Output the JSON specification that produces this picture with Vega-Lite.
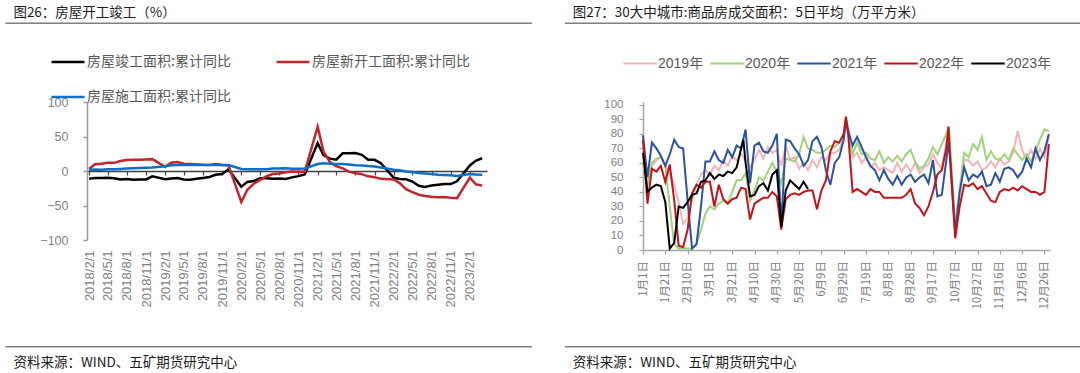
{
"$schema":"https://vega.github.io/schema/vega-lite/v6.json",
"autosize":{"type":"none"},
"padding":{"left":87,"top":102,"right":993,"bottom":271},
"background":"white",
"spacing":31,
"resolve":{"scale":{"color":"independent"},"legend":{"color":"independent"}},
"config":{"view":{"stroke":null},"axis":{"grid":false,"title":null,"domainCap":"butt","labelOverlap":false,"labelBound":false,"labelFlush":false}},
"hconcat":[
{"width":400,"height":138,
"layer":[
{"data":{"values":[
{"d":"2018-02-01","房屋竣工面积:累计同比":-11.3,"房屋新开工面积:累计同比":2.9,"房屋施工面积:累计同比":1.6},
{"d":"2018-03-01","房屋竣工面积:累计同比":-10.0,"房屋新开工面积:累计同比":9.7,"房屋施工面积:累计同比":2.0},
{"d":"2018-04-01","房屋竣工面积:累计同比":-10.3,"房屋新开工面积:累计同比":10.4,"房屋施工面积:累计同比":1.9},
{"d":"2018-05-01","房屋竣工面积:累计同比":-9.9,"房屋新开工面积:累计同比":11.8,"房屋施工面积:累计同比":2.4},
{"d":"2018-06-01","房屋竣工面积:累计同比":-10.6,"房屋新开工面积:累计同比":11.8,"房屋施工面积:累计同比":2.6},
{"d":"2018-07-01","房屋竣工面积:累计同比":-12.3,"房屋新开工面积:累计同比":14.4,"房屋施工面积:累计同比":3.0},
{"d":"2018-08-01","房屋竣工面积:累计同比":-11.6,"房屋新开工面积:累计同比":15.9,"房屋施工面积:累计同比":3.6},
{"d":"2018-09-01","房屋竣工面积:累计同比":-12.5,"房屋新开工面积:累计同比":16.4,"房屋施工面积:累计同比":4.1},
{"d":"2018-10-01","房屋竣工面积:累计同比":-12.4,"房屋新开工面积:累计同比":16.3,"房屋施工面积:累计同比":4.3},
{"d":"2018-11-01","房屋竣工面积:累计同比":-12.3,"房屋新开工面积:累计同比":16.8,"房屋施工面积:累计同比":4.7},
{"d":"2018-12-01","房屋竣工面积:累计同比":-7.8,"房屋新开工面积:累计同比":17.2,"房屋施工面积:累计同比":5.2},
{"d":"2019-02-01","房屋竣工面积:累计同比":-11.9,"房屋新开工面积:累计同比":6.0,"房屋施工面积:累计同比":6.8},
{"d":"2019-03-01","房屋竣工面积:累计同比":-10.8,"房屋新开工面积:累计同比":11.9,"房屋施工面积:累计同比":8.2},
{"d":"2019-04-01","房屋竣工面积:累计同比":-10.3,"房屋新开工面积:累计同比":13.1,"房屋施工面积:累计同比":8.8},
{"d":"2019-05-01","房屋竣工面积:累计同比":-12.4,"房屋新开工面积:累计同比":10.5,"房屋施工面积:累计同比":8.8},
{"d":"2019-06-01","房屋竣工面积:累计同比":-12.7,"房屋新开工面积:累计同比":10.1,"房屋施工面积:累计同比":8.8},
{"d":"2019-07-01","房屋竣工面积:累计同比":-11.3,"房屋新开工面积:累计同比":9.5,"房屋施工面积:累计同比":9.0},
{"d":"2019-08-01","房屋竣工面积:累计同比":-10.0,"房屋新开工面积:累计同比":8.9,"房屋施工面积:累计同比":8.8},
{"d":"2019-09-01","房屋竣工面积:累计同比":-8.6,"房屋新开工面积:累计同比":8.6,"房屋施工面积:累计同比":8.7},
{"d":"2019-10-01","房屋竣工面积:累计同比":-5.5,"房屋新开工面积:累计同比":10.0,"房屋施工面积:累计同比":9.0},
{"d":"2019-11-01","房屋竣工面积:累计同比":-4.5,"房屋新开工面积:累计同比":8.6,"房屋施工面积:累计同比":8.7},
{"d":"2019-12-01","房屋竣工面积:累计同比":2.6,"房屋新开工面积:累计同比":8.5,"房屋施工面积:累计同比":8.7},
{"d":"2020-02-01","房屋竣工面积:累计同比":-22.9,"房屋新开工面积:累计同比":-44.9,"房屋施工面积:累计同比":2.9},
{"d":"2020-03-01","房屋竣工面积:累计同比":-15.8,"房屋新开工面积:累计同比":-27.2,"房屋施工面积:累计同比":2.6},
{"d":"2020-04-01","房屋竣工面积:累计同比":-14.5,"房屋新开工面积:累计同比":-18.4,"房屋施工面积:累计同比":2.5},
{"d":"2020-05-01","房屋竣工面积:累计同比":-10.6,"房屋新开工面积:累计同比":-12.8,"房屋施工面积:累计同比":2.6},
{"d":"2020-06-01","房屋竣工面积:累计同比":-10.5,"房屋新开工面积:累计同比":-7.6,"房屋施工面积:累计同比":2.6},
{"d":"2020-07-01","房屋竣工面积:累计同比":-11.2,"房屋新开工面积:累计同比":-4.5,"房屋施工面积:累计同比":3.6},
{"d":"2020-08-01","房屋竣工面积:累计同比":-10.8,"房屋新开工面积:累计同比":-3.6,"房屋施工面积:累计同比":3.6},
{"d":"2020-09-01","房屋竣工面积:累计同比":-11.6,"房屋新开工面积:累计同比":-1.9,"房屋施工面积:累计同比":3.9},
{"d":"2020-10-01","房屋竣工面积:累计同比":-9.2,"房屋新开工面积:累计同比":-0.6,"房屋施工面积:累计同比":3.4},
{"d":"2020-11-01","房屋竣工面积:累计同比":-7.4,"房屋新开工面积:累计同比":-1.0,"房屋施工面积:累计同比":3.2},
{"d":"2020-12-01","房屋竣工面积:累计同比":-4.9,"房屋新开工面积:累计同比":-1.2,"房屋施工面积:累计同比":3.7},
{"d":"2021-02-01","房屋竣工面积:累计同比":40.4,"房屋新开工面积:累计同比":64.3,"房屋施工面积:累计同比":10.1},
{"d":"2021-03-01","房屋竣工面积:累计同比":22.9,"房屋新开工面积:累计同比":28.2,"房屋施工面积:累计同比":11.2},
{"d":"2021-04-01","房屋竣工面积:累计同比":17.9,"房屋新开工面积:累计同比":12.8,"房屋施工面积:累计同比":10.5},
{"d":"2021-05-01","房屋竣工面积:累计同比":16.4,"房屋新开工面积:累计同比":6.9,"房屋施工面积:累计同比":10.1},
{"d":"2021-06-01","房屋竣工面积:累计同比":25.7,"房屋新开工面积:累计同比":3.8,"房屋施工面积:累计同比":10.2},
{"d":"2021-07-01","房屋竣工面积:累计同比":25.7,"房屋新开工面积:累计同比":-0.9,"房屋施工面积:累计同比":9.5},
{"d":"2021-08-01","房屋竣工面积:累计同比":26.0,"房屋新开工面积:累计同比":-3.2,"房屋施工面积:累计同比":8.4},
{"d":"2021-09-01","房屋竣工面积:累计同比":23.4,"房屋新开工面积:累计同比":-4.5,"房屋施工面积:累计同比":7.9},
{"d":"2021-10-01","房屋竣工面积:累计同比":16.3,"房屋新开工面积:累计同比":-7.7,"房屋施工面积:累计同比":7.1},
{"d":"2021-11-01","房屋竣工面积:累计同比":16.2,"房屋新开工面积:累计同比":-9.1,"房屋施工面积:累计同比":6.6},
{"d":"2021-12-01","房屋竣工面积:累计同比":11.2,"房屋新开工面积:累计同比":-11.4,"房屋施工面积:累计同比":5.2},
{"d":"2022-02-01","房屋竣工面积:累计同比":-9.8,"房屋新开工面积:累计同比":-12.2,"房屋施工面积:累计同比":1.7},
{"d":"2022-03-01","房屋竣工面积:累计同比":-11.5,"房屋新开工面积:累计同比":-17.5,"房屋施工面积:累计同比":1.0},
{"d":"2022-04-01","房屋竣工面积:累计同比":-11.9,"房屋新开工面积:累计同比":-26.3,"房屋施工面积:累计同比":-0.7},
{"d":"2022-05-01","房屋竣工面积:累计同比":-15.3,"房屋新开工面积:累计同比":-30.6,"房屋施工面积:累计同比":-1.3},
{"d":"2022-06-01","房屋竣工面积:累计同比":-21.5,"房屋新开工面积:累计同比":-34.4,"房屋施工面积:累计同比":-2.8},
{"d":"2022-07-01","房屋竣工面积:累计同比":-23.3,"房屋新开工面积:累计同比":-36.1,"房屋施工面积:累计同比":-3.7},
{"d":"2022-08-01","房屋竣工面积:累计同比":-21.1,"房屋新开工面积:累计同比":-37.2,"房屋施工面积:累计同比":-4.5},
{"d":"2022-09-01","房屋竣工面积:累计同比":-19.9,"房屋新开工面积:累计同比":-38.0,"房屋施工面积:累计同比":-5.3},
{"d":"2022-10-01","房屋竣工面积:累计同比":-18.7,"房屋新开工面积:累计同比":-37.8,"房屋施工面积:累计同比":-5.7},
{"d":"2022-11-01","房屋竣工面积:累计同比":-19.0,"房屋新开工面积:累计同比":-38.9,"房屋施工面积:累计同比":-6.0},
{"d":"2022-12-01","房屋竣工面积:累计同比":-15.0,"房屋新开工面积:累计同比":-39.4,"房屋施工面积:累计同比":-7.2},
{"d":"2023-02-01","房屋竣工面积:累计同比":8.0,"房屋新开工面积:累计同比":-9.4,"房屋施工面积:累计同比":-4.4},
{"d":"2023-03-01","房屋竣工面积:累计同比":14.7,"房屋新开工面积:累计同比":-19.2,"房屋施工面积:累计同比":-5.2},
{"d":"2023-04-01","房屋竣工面积:累计同比":18.8,"房屋新开工面积:累计同比":-21.2,"房屋施工面积:累计同比":-5.6}
]},
"transform":[{"fold":["房屋竣工面积:累计同比","房屋新开工面积:累计同比","房屋施工面积:累计同比"],"as":["s","v"]}],
"mark":{"type":"line","strokeWidth":2.5},
"encoding":{
"x":{"field":"d","type":"temporal","scale":{"type":"utc","nice":false,"domain":[{"year":2018,"month":1,"date":22,"utc":true},{"year":2023,"month":4,"date":24,"utc":true}]},
"axis":{"orient":"bottom","offset":-69,"tickCount":100,"values":[{"year":2018,"month":2,"date":1,"utc":true},{"year":2018,"month":5,"date":1,"utc":true},{"year":2018,"month":8,"date":1,"utc":true},{"year":2018,"month":11,"date":1,"utc":true},{"year":2019,"month":2,"date":1,"utc":true},{"year":2019,"month":5,"date":1,"utc":true},{"year":2019,"month":8,"date":1,"utc":true},{"year":2019,"month":11,"date":1,"utc":true},{"year":2020,"month":2,"date":1,"utc":true},{"year":2020,"month":5,"date":1,"utc":true},{"year":2020,"month":8,"date":1,"utc":true},{"year":2020,"month":11,"date":1,"utc":true},{"year":2021,"month":2,"date":1,"utc":true},{"year":2021,"month":5,"date":1,"utc":true},{"year":2021,"month":8,"date":1,"utc":true},{"year":2021,"month":11,"date":1,"utc":true},{"year":2022,"month":2,"date":1,"utc":true},{"year":2022,"month":5,"date":1,"utc":true},{"year":2022,"month":8,"date":1,"utc":true},{"year":2022,"month":11,"date":1,"utc":true},{"year":2023,"month":2,"date":1,"utc":true}],
"labelExpr":"utcFormat(datum.value, '%Y/%-m/%-d')","labelAngle":270,"labelPadding":75,"labelOverlap":false,"domain":true,"domainColor":"#404040","domainWidth":1.5,"ticks":true,"tickSize":4,"tickColor":"#404040","tickWidth":1.2,"labelFont":"Liberation Sans","labelFontSize":13,"labelColor":"#7f7f7f","title":null}},
"y":{"field":"v","type":"quantitative","scale":{"domain":[-100,100],"nice":false,"zero":false},
"axis":{"values":[-100,-50,0,50,100],"tickCount":100,"labelOverlap":false,"domainColor":"#999999","domainWidth":1.5,"tickColor":"#999999","tickWidth":1.5,"tickSize":4,"labelPadding":15,"labelFont":"Liberation Sans","labelFontSize":12.5,"labelColor":"#7f7f7f","title":null}},
"color":{"field":"s","type":"nominal","scale":{"domain":["房屋竣工面积:累计同比","房屋施工面积:累计同比","房屋新开工面积:累计同比"],"range":["#000000","#0a6fc6","#c0272d"]},
"legend":{"orient":"none","legendX":-37,"legendY":-58,"columns":2,"columnPadding":40,"rowPadding":10,"padding":0,"symbolType":"stroke","symbolSize":1089,"symbolStrokeWidth":2.5,"labelFont":"Noto Sans CJK SC","labelFontSize":14,"labelColor":"#595959","labelOffset":1,"labelLimit":300,"title":null}}
}},
{"data":{"values":[{}]},
"mark":{"type":"rule","stroke":"#7f7f7f","strokeWidth":1.5},
"encoding":{
"x":{"datum":{"year":2016,"month":12,"date":27,"utc":true},"type":"temporal"},
"x2":{"datum":{"year":2023,"month":11,"date":26,"utc":true}},
"y":{"datum":214.1,"type":"quantitative"}
}},
{"data":{"values":[{}]},
"mark":{"type":"rule","stroke":"#7f7f7f","strokeWidth":1.5},
"encoding":{
"x":{"datum":{"year":2016,"month":12,"date":27,"utc":true},"type":"temporal"},
"x2":{"datum":{"year":2023,"month":11,"date":26,"utc":true}},
"y":{"datum":-254.6,"type":"quantitative"}
}},
{"data":{"values":[{}]},
"mark":{"type":"text","align":"left","baseline":"middle","font":"Noto Sans CJK SC","fontSize":13.5,"color":"#1a1a1a"},
"encoding":{
"x":{"datum":{"year":2017,"month":2,"date":3,"utc":true},"type":"temporal"},
"y":{"datum":228.6,"type":"quantitative"},
"text":{"value":"图26：房屋开工竣工（%）"}
}},
{"data":{"values":[{}]},
"mark":{"type":"text","align":"left","baseline":"middle","font":"Noto Sans CJK SC","fontSize":13.5,"color":"#1a1a1a"},
"encoding":{
"x":{"datum":{"year":2017,"month":2,"date":3,"utc":true},"type":"temporal"},
"y":{"datum":-278.7,"type":"quantitative"},
"text":{"value":"资料来源：WIND、五矿期货研究中心"}
}}
]
},
{"width":407,"height":148,
"layer":[
{"data":{"values":[
{"d":"2012-01-01","2019年":52,"2020年":60,"2021年":79,"2022年":76,"2023年":67},
{"d":"2012-01-05","2019年":46,"2020年":45,"2021年":50,"2022年":32,"2023年":40},
{"d":"2012-01-09","2019年":58,"2020年":60,"2021年":74,"2022年":56,"2023年":43},
{"d":"2012-01-13","2019年":62,"2020年":63,"2021年":70,"2022年":54,"2023年":45},
{"d":"2012-01-17","2019年":64,"2020年":64,"2021年":65,"2022年":58,"2023年":44},
{"d":"2012-01-21","2019年":58,"2020年":58,"2021年":58,"2022年":47,"2023年":33},
{"d":"2012-01-25","2019年":52,"2020年":30,"2021年":66,"2022年":59,"2023年":1},
{"d":"2012-01-29","2019年":45,"2020年":4,"2021年":76,"2022年":34,"2023年":5},
{"d":"2012-02-02","2019年":33,"2020年":1,"2021年":71,"2022年":3,"2023年":30},
{"d":"2012-02-06","2019年":18,"2020年":1,"2021年":70,"2022年":2,"2023年":29},
{"d":"2012-02-10","2019年":22,"2020年":1,"2021年":34,"2022年":14,"2023年":33},
{"d":"2012-02-14","2019年":35,"2020年":1,"2021年":1,"2022年":39,"2023年":38},
{"d":"2012-02-18","2019年":45,"2020年":4,"2021年":4,"2022年":45,"2023年":39},
{"d":"2012-02-22","2019年":52,"2020年":14,"2021年":30,"2022年":43,"2023年":47},
{"d":"2012-02-26","2019年":55,"2020年":25,"2021年":61,"2022年":47,"2023年":48},
{"d":"2012-03-01","2019年":52,"2020年":30,"2021年":61,"2022年":47,"2023年":53},
{"d":"2012-03-05","2019年":58,"2020年":28,"2021年":68,"2022年":30,"2023年":49},
{"d":"2012-03-09","2019年":55,"2020年":32,"2021年":62,"2022年":45,"2023年":52},
{"d":"2012-03-13","2019年":62,"2020年":34,"2021年":60,"2022年":35,"2023年":51},
{"d":"2012-03-17","2019年":58,"2020年":32,"2021年":69,"2022年":32,"2023年":54},
{"d":"2012-03-21","2019年":65,"2020年":40,"2021年":64,"2022年":35,"2023年":53},
{"d":"2012-03-25","2019年":62,"2020年":48,"2021年":72,"2022年":36,"2023年":57},
{"d":"2012-03-29","2019年":66,"2020年":48,"2021年":70,"2022年":43,"2023年":70},
{"d":"2012-03-31","2023年":76},
{"d":"2012-04-02","2019年":62,"2020年":53,"2021年":83,"2022年":42,"2023年":60},
{"d":"2012-04-06","2019年":57,"2020年":34,"2021年":46,"2022年":21,"2023年":37},
{"d":"2012-04-10","2019年":62,"2020年":41,"2021年":72,"2022年":32,"2023年":38},
{"d":"2012-04-14","2019年":69,"2020年":50,"2021年":74,"2022年":34,"2023年":44},
{"d":"2012-04-18","2019年":63,"2020年":48,"2021年":68,"2022年":36,"2023年":46},
{"d":"2012-04-22","2019年":71,"2020年":54,"2021年":67,"2022年":36,"2023年":41},
{"d":"2012-04-26","2019年":67,"2020年":60,"2021年":72,"2022年":40,"2023年":52},
{"d":"2012-04-30","2019年":69,"2020年":54,"2021年":80,"2022年":37,"2023年":55},
{"d":"2012-05-04","2019年":58,"2020年":46,"2021年":16,"2022年":14,"2023年":16},
{"d":"2012-05-08","2019年":72,"2020年":63,"2021年":76,"2022年":35,"2023年":41},
{"d":"2012-05-12","2019年":62,"2020年":62,"2021年":75,"2022年":38,"2023年":48},
{"d":"2012-05-16","2019年":64,"2020年":61,"2021年":70,"2022年":39,"2023年":45},
{"d":"2012-05-20","2019年":56,"2020年":66,"2021年":66,"2022年":38,"2023年":42},
{"d":"2012-05-24","2019年":60,"2020年":78,"2021年":58,"2022年":40,"2023年":47},
{"d":"2012-05-28","2019年":55,"2020年":70,"2021年":62,"2022年":41,"2023年":42},
{"d":"2012-06-01","2019年":62,"2020年":69,"2021年":75,"2022年":41},
{"d":"2012-06-05","2019年":57,"2020年":67,"2021年":78,"2022年":28},
{"d":"2012-06-09","2019年":64,"2020年":67,"2021年":71,"2022年":41},
{"d":"2012-06-13","2019年":62,"2020年":69,"2021年":55,"2022年":48},
{"d":"2012-06-17","2019年":67,"2020年":72,"2021年":45,"2022年":68},
{"d":"2012-06-21","2019年":67,"2020年":71,"2021年":60,"2022年":75},
{"d":"2012-06-25","2019年":69,"2020年":74,"2021年":64,"2022年":74},
{"d":"2012-06-29","2019年":78,"2020年":80,"2021年":76,"2022年":80},
{"d":"2012-07-01","2019年":89,"2020年":91,"2021年":89,"2022年":92},
{"d":"2012-07-03","2019年":80,"2020年":84,"2021年":82,"2022年":80},
{"d":"2012-07-07","2019年":64,"2020年":66,"2021年":72,"2022年":40},
{"d":"2012-07-11","2019年":67,"2020年":74,"2021年":78,"2022年":42},
{"d":"2012-07-15","2019年":60,"2020年":66,"2021年":71,"2022年":40},
{"d":"2012-07-19","2019年":64,"2020年":67,"2021年":64,"2022年":38},
{"d":"2012-07-23","2019年":57,"2020年":63,"2021年":58,"2022年":42},
{"d":"2012-07-27","2019年":60,"2020年":62,"2021年":55,"2022年":40},
{"d":"2012-07-31","2019年":55,"2020年":68,"2021年":48,"2022年":40},
{"d":"2012-08-04","2019年":57,"2020年":60,"2021年":55,"2022年":36},
{"d":"2012-08-08","2019年":55,"2020年":64,"2021年":49,"2022年":36},
{"d":"2012-08-12","2019年":53,"2020年":61,"2021年":45,"2022年":36},
{"d":"2012-08-16","2019年":60,"2020年":65,"2021年":51,"2022年":36},
{"d":"2012-08-20","2019年":54,"2020年":61,"2021年":45,"2022年":36},
{"d":"2012-08-24","2019年":59,"2020年":66,"2021年":50,"2022年":38},
{"d":"2012-08-28","2019年":54,"2020年":69,"2021年":52,"2022年":42},
{"d":"2012-09-01","2019年":60,"2020年":61,"2021年":47,"2022年":32},
{"d":"2012-09-05","2019年":53,"2020年":56,"2021年":50,"2022年":29},
{"d":"2012-09-09","2019年":57,"2020年":58,"2021年":52,"2022年":24},
{"d":"2012-09-13","2019年":59,"2020年":63,"2021年":46,"2022年":30},
{"d":"2012-09-17","2019年":66,"2020年":71,"2021年":62,"2022年":40},
{"d":"2012-09-21","2019年":60,"2020年":66,"2021年":37,"2022年":52},
{"d":"2012-09-25","2019年":56,"2020年":73,"2021年":38,"2022年":55},
{"d":"2012-09-29","2019年":74,"2020年":80,"2021年":62,"2022年":70},
{"d":"2012-10-01","2019年":82,"2020年":85,"2021年":74,"2022年":85},
{"d":"2012-10-03","2019年":60,"2020年":66,"2021年":58,"2022年":55},
{"d":"2012-10-07","2019年":18,"2020年":13,"2021年":12,"2022年":8},
{"d":"2012-10-11","2019年":40,"2020年":42,"2021年":40,"2022年":30},
{"d":"2012-10-15","2019年":62,"2020年":67,"2021年":57,"2022年":45},
{"d":"2012-10-19","2019年":62,"2020年":64,"2021年":48,"2022年":44},
{"d":"2012-10-23","2019年":58,"2020年":73,"2021年":52,"2022年":46},
{"d":"2012-10-27","2019年":61,"2020年":69,"2021年":50,"2022年":42},
{"d":"2012-10-31","2019年":55,"2020年":78,"2021年":54,"2022年":44},
{"d":"2012-11-04","2019年":57,"2020年":62,"2021年":44,"2022年":39},
{"d":"2012-11-08","2019年":61,"2020年":68,"2021年":45,"2022年":34},
{"d":"2012-11-12","2019年":57,"2020年":63,"2021年":53,"2022年":33},
{"d":"2012-11-16","2019年":63,"2020年":62,"2021年":47,"2022年":40},
{"d":"2012-11-20","2019年":59,"2020年":66,"2021年":56,"2022年":42},
{"d":"2012-11-24","2019年":61,"2020年":62,"2021年":57,"2022年":41},
{"d":"2012-11-28","2019年":67,"2020年":70,"2021年":55,"2022年":43},
{"d":"2012-12-02","2019年":82,"2020年":66,"2021年":50,"2022年":41},
{"d":"2012-12-06","2019年":69,"2020年":62,"2021年":54,"2022年":44},
{"d":"2012-12-10","2019年":62,"2020年":66,"2021年":63,"2022年":42},
{"d":"2012-12-14","2019年":69,"2020年":61,"2021年":57,"2022年":40},
{"d":"2012-12-18","2019年":63,"2020年":68,"2021年":70,"2022年":40},
{"d":"2012-12-22","2019年":70,"2020年":76,"2021年":62,"2022年":38},
{"d":"2012-12-26","2019年":64,"2020年":83,"2021年":68,"2022年":40},
{"d":"2012-12-30","2019年":78,"2020年":82,"2021年":80,"2022年":73}
]},
"transform":[{"fold":["2019年","2020年","2021年","2022年","2023年"],"as":["s","v"]},{"filter":"isValid(datum.v)"}],
"mark":{"type":"line","strokeWidth":2},
"encoding":{
"x":{"field":"d","type":"temporal","scale":{"type":"utc","nice":false,"domain":[{"year":2012,"month":1,"date":1,"utc":true},{"year":2012,"month":12,"date":31,"utc":true}]},
"axis":{"orient":"bottom","tickCount":100,"values":[{"year":2012,"month":1,"date":1,"utc":true},{"year":2012,"month":1,"date":21,"utc":true},{"year":2012,"month":2,"date":10,"utc":true},{"year":2012,"month":3,"date":1,"utc":true},{"year":2012,"month":3,"date":21,"utc":true},{"year":2012,"month":4,"date":10,"utc":true},{"year":2012,"month":4,"date":30,"utc":true},{"year":2012,"month":5,"date":20,"utc":true},{"year":2012,"month":6,"date":9,"utc":true},{"year":2012,"month":6,"date":29,"utc":true},{"year":2012,"month":7,"date":19,"utc":true},{"year":2012,"month":8,"date":8,"utc":true},{"year":2012,"month":8,"date":28,"utc":true},{"year":2012,"month":9,"date":17,"utc":true},{"year":2012,"month":10,"date":7,"utc":true},{"year":2012,"month":10,"date":27,"utc":true},{"year":2012,"month":11,"date":16,"utc":true},{"year":2012,"month":12,"date":6,"utc":true},{"year":2012,"month":12,"date":26,"utc":true}],
"labelExpr":"utcFormat(datum.value, '%-m月%-d日')","labelAngle":270,"labelPadding":6.5,"labelOverlap":false,"domainColor":"#a6a6a6","domainWidth":1.5,"tickColor":"#a6a6a6","tickWidth":1.2,"tickSize":4,"labelFont":"Noto Sans CJK SC","labelFontSize":11.5,"labelColor":"#7f7f7f","title":null}},
"y":{"field":"v","type":"quantitative","scale":{"domain":[0,102],"nice":false,"zero":false},
"axis":{"values":[0,10,20,30,40,50,60,70,80,90,100],"tickCount":100,"labelOverlap":false,"domainColor":"#a6a6a6","domainWidth":1.5,"tickColor":"#a6a6a6","tickWidth":1.2,"tickSize":4,"labelPadding":16,"labelFont":"Liberation Sans","labelFontSize":11.5,"labelColor":"#7f7f7f","title":null}},
"color":{"field":"s","type":"nominal","scale":{"domain":["2019年","2020年","2021年","2022年","2023年"],"range":["#f4b4b7","#a1d27c","#2c52a0","#c0141c","#000000"]},
"legend":{"orient":"none","direction":"horizontal","legendX":-21,"legendY":-56.5,"columnPadding":2,"padding":0,"symbolType":"stroke","symbolSize":1116,"symbolStrokeWidth":2,"labelFont":"Liberation Sans, Noto Sans CJK SC","labelFontSize":14,"labelColor":"#595959","labelOffset":0,"labelLimit":200,"title":null}}
}},
{"data":{"values":[{}]},
"mark":{"type":"rule","stroke":"#7f7f7f","strokeWidth":1.5},
"encoding":{
"x":{"datum":{"year":2011,"month":10,"date":23,"utc":true},"type":"temporal"},
"x2":{"datum":{"year":2013,"month":1,"date":27,"utc":true}},
"y":{"datum":156.2,"type":"quantitative"}
}},
{"data":{"values":[{}]},
"mark":{"type":"rule","stroke":"#7f7f7f","strokeWidth":1.5},
"encoding":{
"x":{"datum":{"year":2011,"month":10,"date":23,"utc":true},"type":"temporal"},
"x2":{"datum":{"year":2013,"month":1,"date":27,"utc":true}},
"y":{"datum":-66.6,"type":"quantitative"}
}},
{"data":{"values":[{}]},
"mark":{"type":"text","align":"left","baseline":"middle","font":"Noto Sans CJK SC","fontSize":13.5,"color":"#1a1a1a"},
"encoding":{
"x":{"datum":{"year":2011,"month":10,"date":30,"utc":true},"type":"temporal"},
"y":{"datum":163.1,"type":"quantitative"},
"text":{"value":"图27：30大中城市:商品房成交面积：5日平均（万平方米）"}
}},
{"data":{"values":[{}]},
"mark":{"type":"text","align":"left","baseline":"middle","font":"Noto Sans CJK SC","fontSize":13.5,"color":"#1a1a1a"},
"encoding":{
"x":{"datum":{"year":2011,"month":10,"date":30,"utc":true},"type":"temporal"},
"y":{"datum":-78.1,"type":"quantitative"},
"text":{"value":"资料来源：WIND、五矿期货研究中心"}
}}
]
}
]
}
